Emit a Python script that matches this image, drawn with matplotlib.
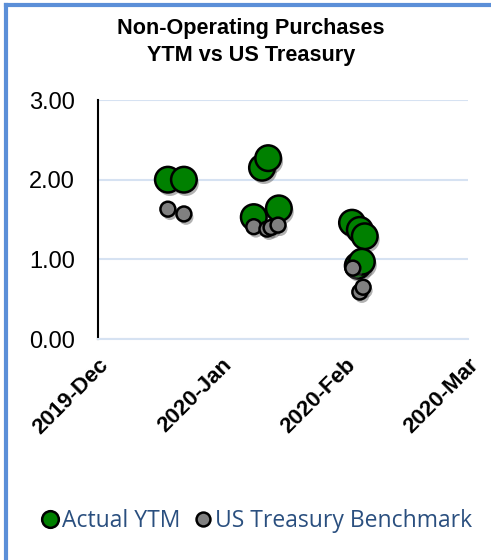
import numpy as np
import matplotlib.pyplot as plt
import matplotlib.patheffects as pe
from matplotlib.lines import Line2D

# days since 2019-12-01 (axis spans four month labels evenly)
ytm_days = [17.0, 20.9, 37.9, 39.9, 41.4, 44.0, 61.8, 63.7, 64.9, 63.2, 64.2]
ytm_vals = [2.00, 2.00, 1.53, 2.15, 2.27, 1.64, 1.46, 1.37, 1.29, 0.92, 0.97]

ust_days = [17.0, 20.9, 37.9, 41.1, 42.1, 43.8, 62.0, 63.7, 64.5]
ust_vals = [1.63, 1.57, 1.41, 1.38, 1.40, 1.43, 0.89, 0.59, 0.65]

tick_days = [0, 30, 60, 90]
tick_labels = ['2019-Dec', '2020-Jan', '2020-Feb', '2020-Mar']
y_ticks = [0, 1, 2, 3]

fig = plt.figure(figsize=(4.91, 5.6), dpi=100)
ax = fig.add_axes([0.1996, 0.3946, 0.7534, 0.4268])

shadow = [pe.SimplePatchShadow(offset=(1.5, -2.5), shadow_rgbFace='#555555', alpha=0.45), pe.Normal()]

ax.scatter(ytm_days, ytm_vals, s=340, c='#008000', edgecolors='black', linewidths=1.8,
           zorder=3, path_effects=shadow)
ax.scatter(ust_days, ust_vals, s=115, c='#808080', edgecolors='black', linewidths=1.8,
           zorder=4, path_effects=shadow)

ax.set_xlim(0, 90)
ax.set_ylim(0, 3)
ax.set_xticks(tick_days)
ax.set_xticklabels(tick_labels, rotation=45, ha='right', rotation_mode='anchor',
                   fontsize=16, fontweight='bold', family='Liberation Sans')
ax.set_yticks(y_ticks)
ax.set_yticklabels(['%.2f' % v for v in y_ticks], fontsize=17, family='Liberation Sans')
ax.tick_params(axis='x', length=0, pad=11)
ax.tick_params(axis='y', length=0, pad=16.5)

ax.grid(axis='y', color='#d6e2f2', linewidth=1.5)
ax.set_axisbelow(True)
for s in ['top', 'right']:
    ax.spines[s].set_visible(False)
ax.spines['bottom'].set_color('#d6e2f2')
ax.spines['bottom'].set_linewidth(1.5)
ax.spines['left'].set_color('black')
ax.spines['left'].set_linewidth(1.5)

fig.text(0.511, 0.925, 'Non-Operating Purchases\nYTM vs US Treasury', ha='center', va='center',
         fontsize=15.6, fontweight='bold', family='Liberation Sans', linespacing=1.38)

handles = [
    Line2D([], [], marker='o', linestyle='', markersize=12, markerfacecolor='#008000',
           markeredgecolor='black', markeredgewidth=1.8),
    Line2D([], [], marker='o', linestyle='', markersize=10, markerfacecolor='#808080',
           markeredgecolor='black', markeredgewidth=1.8),
]
fig.legend(handles, ['Actual YTM', 'US Treasury Benchmark'], loc='center',
           bbox_to_anchor=(0.52, 0.069), ncol=2, frameon=False, handletextpad=0.0,
           columnspacing=0.5, handlelength=1.0,
           prop={'family': 'Open Sans', 'size': 16.5}, labelcolor='#2a4f7f')

# blue frame on top and left edges
fig.add_artist(Line2D([0.012, 1.0], [0.991, 0.991], transform=fig.transFigure,
                      color='#5b8fd8', linewidth=3))
fig.add_artist(Line2D([0.012, 0.012], [0.0, 0.991], transform=fig.transFigure,
                      color='#5b8fd8', linewidth=3))

fig.savefig('out.png', dpi=100)
